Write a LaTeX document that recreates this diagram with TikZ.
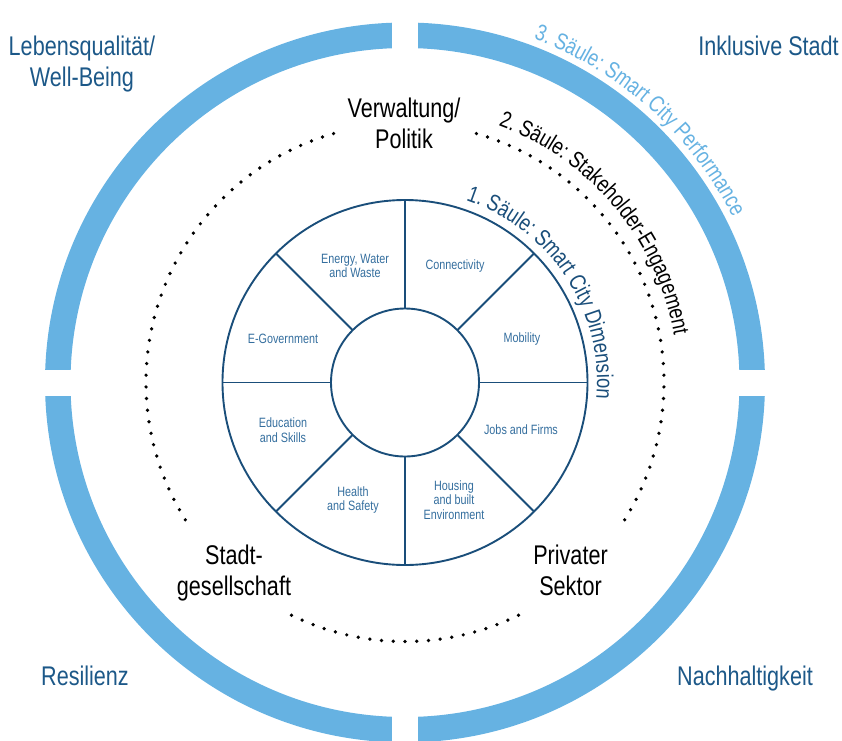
\documentclass[tikz,border=0pt]{standalone}
\usepackage{fontspec}
\setmainfont{Liberation Sans}[FakeStretch=0.8]
\usetikzlibrary{decorations.text}
\definecolor{ringblue}{RGB}{102,178,226}
\definecolor{lineblue}{RGB}{26,78,122}
\definecolor{labelblue}{RGB}{28,88,136}
\definecolor{wheeltext}{RGB}{52,110,158}
\newcommand\bigf{\fontsize{27}{31}\selectfont}
\newcommand\midf{\fontsize{23}{27}\selectfont}
\newcommand\smallf{\fontsize{13.5}{14.5}\selectfont}
\begin{document}
\begin{tikzpicture}[x=1pt,y=1pt,
  outerlabel/.style={font=\bigf, text=labelblue, align=center, inner sep=0pt, anchor=base},
  actorlabel/.style={font=\bigf, text=black, align=center, inner sep=0pt, anchor=base},
  dimlabel/.style={font=\smallf, text=wheeltext, align=center, inner sep=0pt},
  wheelline/.style={draw=lineblue, line width=1.9pt},
  dotmark/.style={fill=black}]
\useasboundingbox (-405,-357.5) rectangle (437,382.5);
% outer ring (3. Saeule) split into four quadrants
\draw[ringblue, line width=25.5pt] (0,0) circle[radius=347.25pt];
\fill[white] (-13,315) rectangle (13,380);
\fill[white] (-13,-315) rectangle (13,-380);
\fill[white] (315,-13) rectangle (380,13);
\fill[white] (-315,-13) rectangle (-380,13);
% dotted stakeholder circle
\foreach \i in {0,...,41} \fill[dotmark] ({106+\i*106/41}:259pt) circle[radius=1.85pt];
\foreach \i in {0,...,41} \fill[dotmark] ({74-\i*106/41}:259pt) circle[radius=1.85pt];
\foreach \i in {0,...,20} \fill[dotmark] ({244+\i*52/20}:259pt) circle[radius=1.85pt];
% wheel
\draw[wheelline] (0,0) circle[radius=182.5pt];
\draw[wheelline] (0,0) circle[radius=74pt];
\foreach \a in {0,45,...,315} \draw[wheelline] (\a:74pt) -- (\a:182.5pt);
% curved pillar titles
\path[decorate, decoration={text along path, text align=left,
  text={|\midf\color{lineblue}|1. Säule: Smart City Dimension}}]
  (71.5:192pt) arc[start angle=71.5, end angle=-30, radius=192pt];
\path[decorate, decoration={text along path, text align=left,
  text={|\midf\color{black}|2. Säule: Stakeholder-Engagement}}]
  (70:273pt) arc[start angle=70, end angle=-20, radius=273pt];
\path[decorate, decoration={text along path, text align=left,
  text={|\midf\color{ringblue}|3. Säule: Smart City Performance}}]
  (69.5:367pt) arc[start angle=69.5, end angle=0, radius=367pt];
% corner labels (anchor = baseline of last line)
\node[outerlabel] (lq) at (-323,296.5) {Lebensqualität/\\Well-Being};
\node[outerlabel] (is) at (363.5,327.5) {Inklusive Stadt};
\node[outerlabel] (res) at (-320,-302.5) {Resilienz};
\node[outerlabel] (nh) at (340,-302.5) {Nachhaltigkeit};
% stakeholders
\node[actorlabel] (vp) at (-1,234.5) {Verwaltung/\\Politik};
\node[actorlabel] (sg) at (-171,-213) {Stadt-\\gesellschaft};
\node[actorlabel] (ps) at (165.5,-213) {Privater\\Sektor};
% dimensions
\node[dimlabel] (ew) at (-50,116.5) {Energy, Water\\and Waste};
\node[dimlabel] (co) at (50,116.5) {Connectivity};
\node[dimlabel] (mo) at (117,43.5) {Mobility};
\node[dimlabel] (eg) at (-122,43.5) {E-Government};
\node[dimlabel] (ed) at (-122,-47.5) {Education\\and Skills};
\node[dimlabel] (jf) at (116,-47.5) {Jobs and Firms};
\node[dimlabel] (hs) at (-52,-117.5) {Health\\and Safety};
\node[dimlabel] (hb) at (49,-117.5) {Housing\\and built\\Environment};
\end{tikzpicture}
\end{document}
